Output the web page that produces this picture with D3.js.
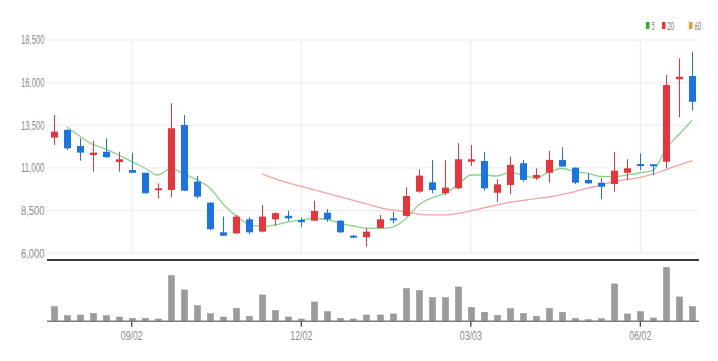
<!DOCTYPE html>
<html>
<head>
<meta charset="utf-8">
<script src="https://cdn.jsdelivr.net/npm/d3@7"></script>
<style>
  html, body { margin: 0; padding: 0; background: #fff; }
  svg { display: block; font-family: Lato, "Noto Sans", sans-serif; }
</style>
</head>
<body>
<svg id="chart" width="718" height="361"></svg>
<script>
const categories = ["07/22","07/29","08/05","08/12","08/19","08/26","09/02","09/09","09/16","09/23","09/30","10/07","10/14","10/21","10/28","11/04","11/11","11/18","11/25","12/02","12/09","12/16","12/23","12/30","01/06","01/13","01/20","01/27","02/03","02/10","02/17","02/24","03/03","03/10","03/17","03/24","03/31","04/07","04/14","04/21","04/28","05/05","05/12","05/19","05/26","06/02","06/09","06/16","06/23","06/30"];
const xTickLabels = ["09/02","12/02","03/03","06/02"];
const yTicks = [6000, 8500, 11000, 13500, 16000, 18500];

const open  = [12780,13230,12290,11760,11950,11350,10880,10720,9710,9710,13520,10200,8970,7230,7170,7990,7270,7990,8200,7950,7910,8380,7910,7030,6940,7470,8050,8190,9610,10160,9520,9810,11370,11410,9550,10000,11280,10400,10720,11470,11020,10300,10140,10060,10720,11230,11220,11370,16200,16390];
const high  = [14100,13270,12740,12600,12740,11950,11900,10720,10100,14790,14100,10530,9000,8150,8250,8110,8830,8400,8500,8090,9080,8580,7950,7080,7470,8250,8440,9870,10920,11470,11470,12450,12350,11950,10340,11660,11470,10980,12010,12210,11030,10690,10400,11950,11510,11860,11230,16450,17430,17810];
const low   = [12350,12050,11430,10780,11600,10780,10700,9500,9220,9280,9650,9220,7350,7030,7130,7130,7230,7600,7910,7520,7910,7850,7190,6900,6390,7470,7760,8150,9550,9520,9420,9750,11120,9670,9020,9460,10200,10300,10140,11080,10060,10060,9170,9610,10300,10880,10590,10980,13970,14360];
const close = [13130,12150,11900,11900,11630,11510,10720,9520,9810,13330,9670,9320,7410,7030,8150,7230,8150,8350,8050,7820,8480,7990,7230,6940,7270,7990,7930,9360,10550,9710,9850,11510,11510,9810,10040,11180,10300,10590,11470,11080,10140,10100,9900,10840,10980,11130,11120,15860,16350,14880];
const volume = [140000,50000,57000,73000,50000,37000,23000,23000,17000,450000,307000,150000,70000,37000,123000,43000,257000,100000,37000,17000,187000,90000,23000,17000,57000,57000,67000,320000,300000,230000,230000,337000,133000,83000,53000,120000,73000,43000,123000,83000,23000,10000,20000,367000,67000,90000,27000,533000,237000,140000];
const ma5 = [null,13420,12870,12380,12110,11760,11370,11000,10590,10970,10650,10300,9830,8890,8190,7690,7570,7660,7840,7950,8040,7980,7760,7600,7470,7470,7540,8010,8830,9240,9510,10000,10590,10590,10530,10740,10590,10410,10770,10970,10780,10690,10500,10490,10590,10720,10880,12170,12990,13810];
const ma20 = [null,null,null,null,null,null,null,null,null,null,null,null,null,null,null,null,10650,10360,10120,9920,9710,9510,9300,9100,8890,8680,8540,8420,8300,8250,8250,8330,8480,8660,8830,8980,9100,9210,9300,9450,9620,9830,10000,10210,10330,10450,10650,10910,11180,11430];
const legendLabels = ["5","20","60"];
const legendColors = ["#2db52d","#ee3333","#f39a26"];

const svg = d3.select("#chart");
const plotLeft = 47, plotRight = 699, plotTop = 40, plotBottom = 253.3;
const volBase = 320.7;

const x = d3.scaleBand().domain(categories).range([plotLeft, plotRight]).paddingInner(0).paddingOuter(0);
const cx = d => x(d) + x.bandwidth() / 2;
const y = d3.scaleLinear().domain([6000, 18500]).range([plotBottom, plotTop]);
const yv = d3.scaleLinear().domain([0, 600000]).range([volBase, volBase - 60.1]);

// horizontal gridlines
svg.append("g").selectAll("line").data(yTicks).join("line")
  .attr("x1", plotLeft).attr("x2", plotRight)
  .attr("y1", d => y(d)).attr("y2", d => y(d))
  .attr("stroke", "#ebebeb").attr("stroke-width", 1);

// vertical gridlines
svg.append("g").selectAll("line").data(xTickLabels).join("line")
  .attr("x1", d => cx(d)).attr("x2", d => cx(d))
  .attr("y1", plotTop).attr("y2", plotBottom)
  .attr("stroke", "#ececec").attr("stroke-width", 1);

// y axis labels
const yAxis = d3.axisLeft(y).tickValues(yTicks).tickSize(0).tickPadding(0).tickFormat(d3.format(","));
const gy = svg.append("g").attr("transform", `translate(44.5,0)`).call(yAxis);
gy.select(".domain").remove();
gy.selectAll("text").attr("fill", "#8a8a8a").attr("font-size", 12)
  .attr("textLength", 23.5).attr("lengthAdjust", "spacingAndGlyphs");

// separator line
svg.append("line").attr("x1", plotLeft).attr("x2", plotRight).attr("y1", 260).attr("y2", 260)
  .attr("stroke", "#3a3a3a").attr("stroke-width", 2);

// MA lines
const line = d3.line().defined(d => d[1] != null).x(d => cx(d[0])).y(d => y(d[1])).curve(d3.curveMonotoneX);
svg.append("path").datum(categories.map((c, i) => [c, ma20[i]]))
  .attr("d", line).attr("fill", "none").attr("stroke", "#f4a3a3").attr("stroke-width", 1.3);
svg.append("path").datum(categories.map((c, i) => [c, ma5[i]]))
  .attr("d", line).attr("fill", "none").attr("stroke", "#86d486").attr("stroke-width", 1.3);

// candles
const upColor = "#e8343c", downColor = "#1b74e6";
const candles = svg.append("g").selectAll("g").data(categories).join("g");
candles.append("line")
  .attr("x1", d => Math.round(cx(d)) + 0.5).attr("x2", d => Math.round(cx(d)) + 0.5)
  .attr("y1", (d, i) => y(high[i])).attr("y2", (d, i) => y(low[i]))
  .attr("stroke", (d, i) => close[i] >= open[i] ? upColor : downColor).attr("stroke-width", 1);
candles.append("rect")
  .attr("x", d => Math.round(cx(d)) - 3)
  .attr("width", 7)
  .attr("y", (d, i) => y(Math.max(open[i], close[i])))
  .attr("height", (d, i) => Math.max(2, Math.abs(y(open[i]) - y(close[i]))))
  .attr("fill", (d, i) => close[i] >= open[i] ? upColor : downColor);

// volume bars
svg.append("g").selectAll("rect").data(categories).join("rect")
  .attr("x", d => Math.round(cx(d)) - 2.5)
  .attr("width", 6)
  .attr("y", (d, i) => yv(volume[i]))
  .attr("height", (d, i) => volBase - yv(volume[i]))
  .attr("fill", "#9b9b9b").attr("stroke", "#8a8a8a").attr("stroke-width", 0.5);

// volume baseline
svg.append("line").attr("x1", plotLeft).attr("x2", plotRight).attr("y1", volBase + 0.5).attr("y2", volBase + 0.5)
  .attr("stroke", "#7d7d7d").attr("stroke-width", 1.6);

// x axis
const xAxis = d3.axisBottom(x).tickValues(xTickLabels).tickSize(5).tickPadding(5);
const gx = svg.append("g").attr("transform", `translate(0,${volBase + 1})`).call(xAxis);
gx.select(".domain").remove();
gx.selectAll(".tick line").attr("stroke", "#333").attr("stroke-width", 1.2);
gx.selectAll("text").attr("fill", "#8a8a8a").attr("font-size", 12)
  .attr("textLength", 22).attr("lengthAdjust", "spacingAndGlyphs");

// legend
const legX = [646, 662, 689];
const leg = svg.append("g").selectAll("g").data(legendLabels).join("g")
  .attr("transform", (d, i) => `translate(${legX[i]},22)`);
leg.append("rect").attr("width", 3.5).attr("height", 7).attr("fill", (d, i) => legendColors[i]);
leg.append("text").attr("x", 5.5).attr("y", 7.5).attr("font-size", 12).attr("fill", "#777")
  .attr("textLength", d => d.length * 3.2).attr("lengthAdjust", "spacingAndGlyphs").text(d => d);
</script>
</body>
</html>
